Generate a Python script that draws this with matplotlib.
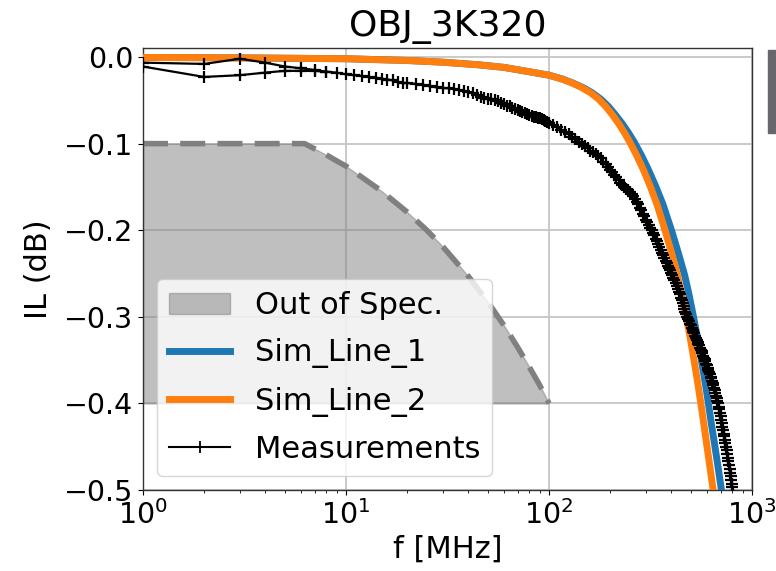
import matplotlib
matplotlib.use("Agg")
import matplotlib.pyplot as plt
from matplotlib.patches import Rectangle, Patch
from matplotlib.lines import Line2D

# ---- data -------------------------------------------------------------
# Out-of-spec boundary (frequency in MHz, insertion loss in dB)
spec_f = [1, 6.25, 7, 8, 9, 10, 12, 15, 20, 25, 30, 40, 50, 60, 70, 80, 90, 100]
spec_il = [-0.1, -0.1, -0.106, -0.113, -0.12, -0.126, -0.139, -0.155, -0.179,
           -0.2, -0.219, -0.253, -0.283, -0.31, -0.335, -0.358, -0.379, -0.4]
spec_floor = -0.4

# Simulated lines
sim1_f = [1, 3, 10, 20, 30, 45, 60, 80, 100, 116, 131, 147, 163, 179, 196, 212,
          229, 246, 263, 285, 307, 335, 364, 401, 432, 466, 489, 514, 538, 563,
          588, 609, 632, 654, 680, 708, 730]
sim1_il = [-0.0005, -0.001, -0.002, -0.004, -0.006, -0.009, -0.012, -0.017,
           -0.021, -0.0253, -0.030, -0.0353, -0.0413, -0.0483, -0.057, -0.0666,
           -0.0767, -0.0873, -0.0983, -0.1134, -0.1289, -0.149, -0.170, -0.200,
           -0.225, -0.252, -0.274, -0.299, -0.323, -0.350, -0.376, -0.399, -0.425,
           -0.447, -0.473, -0.501, -0.523]

sim2_f = [1, 3, 10, 20, 30, 45, 60, 80, 100, 115, 130, 145, 160, 175, 190, 205,
          220, 235, 250, 270, 290, 315, 340, 373, 400, 429, 450, 473, 495, 518,
          540, 559, 580, 598, 620, 645, 665]
sim2_il = [-0.0005, -0.001, -0.002, -0.004, -0.006, -0.009, -0.012, -0.017,
           -0.021, -0.0253, -0.030, -0.0353, -0.0413, -0.0483, -0.057, -0.0666,
           -0.0767, -0.0873, -0.0983, -0.1134, -0.1289, -0.149, -0.170, -0.200,
           -0.225, -0.252, -0.274, -0.299, -0.323, -0.350, -0.376, -0.399, -0.425,
           -0.447, -0.473, -0.501, -0.523]

# Measurement sweep, 1 - 100 MHz
meas_lo_f = [1, 2, 3, 4, 5, 6, 7, 8, 9, 10, 11, 12, 13, 14, 15, 16, 17, 18, 19,
             20, 22, 24, 26, 28, 30, 32, 34, 36, 38, 40, 42, 44, 46, 48, 50, 52,
             54, 56, 58, 60, 62, 64, 66, 68, 70, 72, 74, 76, 78, 80, 82, 84, 86,
             88, 90, 92, 94, 96, 98, 100]
meas_lo_il = [-0.0065, -0.008, -0.002, -0.0065, -0.011, -0.013, -0.015, -0.017,
              -0.018, -0.020, -0.021, -0.022, -0.023, -0.024, -0.025, -0.026,
              -0.027, -0.029, -0.030, -0.030, -0.031, -0.032, -0.034, -0.035,
              -0.036, -0.036, -0.037, -0.038, -0.039, -0.040, -0.042, -0.044,
              -0.046, -0.047, -0.048, -0.049, -0.050, -0.051, -0.053, -0.054,
              -0.056, -0.057, -0.059, -0.060, -0.061, -0.062, -0.063, -0.065,
              -0.066, -0.067, -0.068, -0.069, -0.069, -0.070, -0.071, -0.072,
              -0.073, -0.074, -0.075, -0.076]

# Measurement sweep, 105 - 820 MHz
meas_hi_f = [105, 110, 115, 120, 125, 130, 135, 140, 145, 150, 155, 160, 165,
             170, 175, 180, 185, 190, 195, 200, 205, 210, 215, 220, 225, 230,
             235, 240, 245, 250, 255, 260, 265, 270, 275, 280, 285, 290, 295,
             300, 305, 310, 315, 320, 325, 330, 335, 340, 345, 350, 355, 360,
             365, 370, 375, 380, 385, 390, 395, 400, 405, 410, 415, 420, 425,
             430, 435, 440, 445, 450, 455, 460, 465, 470, 475, 480, 485, 490,
             495, 500, 505, 510, 515, 520, 525, 530, 535, 540, 545, 550, 555,
             560, 565, 570, 575, 580, 585, 590, 595, 600, 605, 610, 615, 620,
             625, 630, 635, 640, 645, 650, 655, 660, 665, 670, 675, 680, 685,
             690, 695, 700, 705, 710, 715, 720, 725, 730, 735, 740, 745, 750,
             755, 760, 765, 770, 775, 780, 785, 790, 795, 800, 805, 810, 815, 820]
meas_hi_il = [-0.078, -0.081, -0.084, -0.087, -0.089, -0.092, -0.095, -0.098,
              -0.100, -0.103, -0.105, -0.108, -0.110, -0.112, -0.114, -0.117,
              -0.121, -0.124, -0.127, -0.130, -0.133, -0.136, -0.139, -0.142,
              -0.145, -0.148, -0.150, -0.152, -0.154, -0.156, -0.158, -0.161,
              -0.164, -0.167, -0.170, -0.174, -0.177, -0.181, -0.184, -0.188,
              -0.191, -0.194, -0.197, -0.200, -0.203, -0.206, -0.210, -0.213,
              -0.216, -0.219, -0.223, -0.226, -0.229, -0.232, -0.235, -0.238,
              -0.241, -0.244, -0.246, -0.249, -0.252, -0.255, -0.258, -0.261,
              -0.265, -0.268, -0.271, -0.274, -0.278, -0.281, -0.284, -0.287,
              -0.291, -0.294, -0.297, -0.300, -0.303, -0.305, -0.308, -0.310,
              -0.313, -0.315, -0.317, -0.319, -0.322, -0.324, -0.327, -0.329,
              -0.331, -0.333, -0.336, -0.338, -0.340, -0.342, -0.345, -0.347,
              -0.349, -0.351, -0.354, -0.356, -0.359, -0.361, -0.364, -0.366,
              -0.369, -0.371, -0.374, -0.376, -0.379, -0.382, -0.385, -0.388,
              -0.391, -0.394, -0.397, -0.400, -0.404, -0.407, -0.411, -0.415,
              -0.419, -0.423, -0.427, -0.431, -0.435, -0.438, -0.442, -0.446,
              -0.450, -0.454, -0.459, -0.463, -0.467, -0.471, -0.476, -0.480,
              -0.484, -0.488, -0.493, -0.497, -0.502, -0.506, -0.511, -0.515]

# Second sweep, low-frequency part
meas2_f = [1, 2, 3, 4, 5, 6, 7, 8]
meas2_il = [-0.011, -0.023, -0.021, -0.018, -0.016, -0.016, -0.016, -0.017]

# ---- figure -----------------------------------------------------------
fig = plt.figure(figsize=(7.76, 5.71), dpi=100)
ax = fig.add_axes([143 / 776, 1 - 490 / 571, (752 - 143) / 776, (490 - 48) / 571])

ax.fill_between(spec_f, spec_il, spec_floor, color="gray", alpha=0.5, zorder=2)
ax.plot(spec_f, spec_il, color="gray", lw=4, dashes=(4.5, 2.2), zorder=2.1)

ax.plot(sim1_f, sim1_il, color="#1f77b4", lw=5, zorder=3)
ax.plot(sim2_f, sim2_il, color="#ff7f0e", lw=5, zorder=3.1)

meas_style = dict(color="black", lw=1.6, marker="+", ms=9, mew=1.6, zorder=4)
ax.plot(meas_lo_f + meas_hi_f, meas_lo_il + meas_hi_il, **meas_style)
ax.plot(meas2_f, meas2_il, **meas_style)

ax.set_xscale("log")
ax.set_xlim(1, 1000)
ax.set_ylim(-0.5, 0.0104)
ax.set_yticks([0.0, -0.1, -0.2, -0.3, -0.4, -0.5])

ax.grid(True, which="major", color="#c6c6c6", lw=1.3)
ax.set_axisbelow(True)
for s in ax.spines.values():
    s.set_color("#333333")
    s.set_linewidth(1.0)

ax.tick_params(axis="both", which="major", labelsize=20.5)
ax.set_title("OBJ_3K320", fontsize=26, pad=8.5)
ax.set_xlabel("f [MHz]", fontsize=22)
ax.set_ylabel("IL (dB)", fontsize=22, labelpad=7.5)

handles = [
    Patch(facecolor="gray", edgecolor="gray", alpha=0.5, label="Out of Spec."),
    Line2D([], [], color="#1f77b4", lw=5, label="Sim_Line_1"),
    Line2D([], [], color="#ff7f0e", lw=5, label="Sim_Line_2"),
    Line2D([], [], color="black", lw=1.5, marker="+", ms=8, mew=1.3,
           label="Measurements"),
]
leg = ax.legend(handles=handles, loc="lower left", fontsize=22,
                borderaxespad=0.45, labelspacing=0.6)
leg.set_zorder(10)

# neighbouring panel edge at the right border
fig.patches.append(Rectangle((768 / 776, 1 - 133 / 571), 10 / 776, 83 / 571,
                             transform=fig.transFigure, color="#67676d",
                             zorder=0))

fig.savefig("out.png", dpi=100)
